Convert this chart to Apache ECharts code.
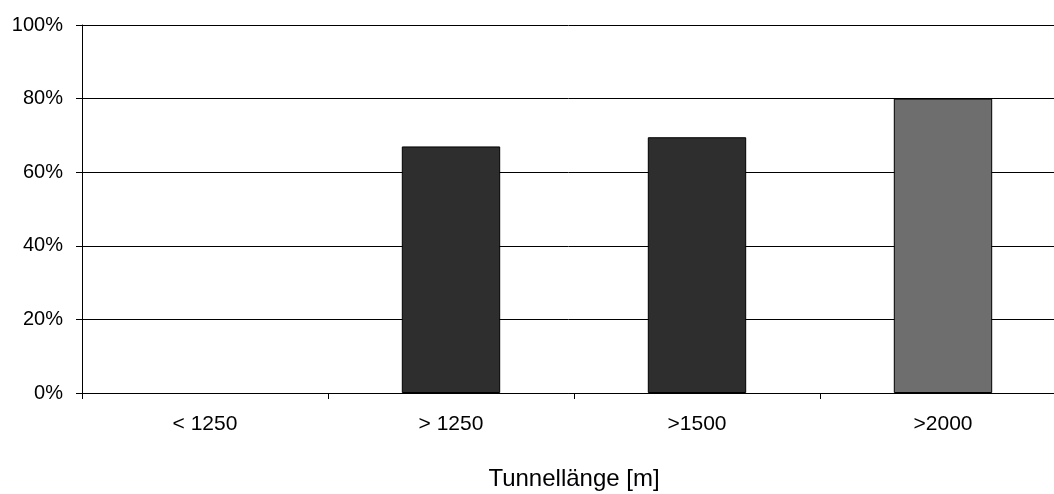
<!DOCTYPE html>
<html>
<head>
<meta charset="utf-8">
<script src="https://cdn.jsdelivr.net/npm/echarts@6/dist/echarts.min.js"></script>
<style>
  html, body { margin: 0; padding: 0; background: #fff; }
  #chart { width: 1054px; height: 494px; }
</style>
</head>
<body>
<div id="chart"></div>
<script>
// Daten
const categories = ["< 1250", "> 1250", ">1500", ">2000"];
const values = [0, 67, 69.5, 80];
const barColors = ["#2e2e2e", "#2e2e2e", "#2e2e2e", "#6e6e6e"];
const yTicks = [0, 20, 40, 60, 80, 100];

const chart = echarts.init(document.getElementById("chart"));
chart.setOption({
  animation: false,
  textStyle: { fontFamily: "Liberation Sans, Arial, sans-serif" },
  grid: { left: 82, top: 25, height: 368, width: 984, containLabel: false, outerBoundsMode: "none" },
  xAxis: {
    type: "category",
    data: categories,
    name: "Tunnellänge [m]",
    nameLocation: "middle",
    nameGap: 74,
    nameTextStyle: { fontSize: 24, color: "#000" },
    axisLine: { lineStyle: { color: "#000", width: 1 } },
    axisTick: { show: true, length: 6, lineStyle: { color: "#000" } },
    axisLabel: { fontSize: 21, color: "#000", margin: 21 }
  },
  yAxis: {
    type: "value",
    min: yTicks[0],
    max: yTicks[yTicks.length - 1],
    interval: 20,
    axisLine: { show: true, lineStyle: { color: "#000", width: 1 } },
    axisTick: { show: true, length: 6, lineStyle: { color: "#000" } },
    axisLabel: { fontSize: 20, color: "#000", margin: 19, formatter: v => v + "%" },
    splitLine: { lineStyle: { color: "#000", width: 1 } }
  },
  series: [{
    type: "bar",
    barWidth: "40%",
    data: values.map((v, i) => ({
      value: v,
      itemStyle: { color: barColors[i], borderColor: "#000", borderWidth: v > 0 ? 1 : 0 }
    }))
  }]
});
</script>
</body>
</html>
